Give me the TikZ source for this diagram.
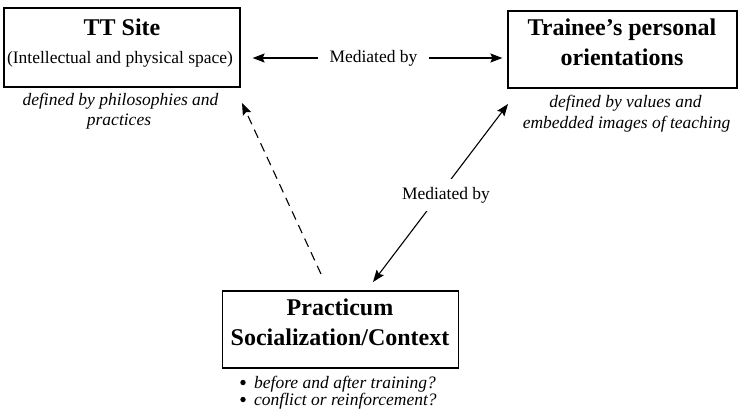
\documentclass[tikz,border=0pt]{standalone}
\usepackage{fontspec}
\setmainfont{Liberation Serif}
\usetikzlibrary{arrows.meta}
\begin{document}
\begin{tikzpicture}[x=1pt,y=-1pt,
  box/.style={draw, line width=1.2pt, rectangle, inner sep=0pt},
  ttl/.style={font=\fontsize{24}{29}\selectfont\bfseries, anchor=base, inner sep=0pt},
  txt/.style={font=\fontsize{17.5}{21}\selectfont, anchor=base, inner sep=0pt},
  itx/.style={font=\fontsize{17.5}{21}\selectfont\itshape, anchor=base, inner sep=0pt},
  bul/.style={fill=black},
  arr/.style={line width=1.1pt, -{Stealth[length=12pt,width=9pt,inset=2pt]}},
  arrb/.style={line width=1.1pt, {Stealth[length=12pt,width=9pt,inset=2pt]}-{Stealth[length=12pt,width=9pt,inset=2pt]}}
]
\useasboundingbox (0,0) rectangle (738,413);
% boxes
\node[box, minimum width=236pt, minimum height=79pt] (tt) at (122,47.5) {};
\node[box, minimum width=229pt, minimum height=77pt] (tr) at (622.5,49.5) {};
\node[box, minimum width=236pt, minimum height=77pt] (pr) at (340.5,329.5) {};
% box texts
\node[ttl] (ttA) at (122,35) {TT Site};
\node[txt] (ttB) at (120,63) {(Intellectual and physical space)};
\node[ttl] (trA) at (622,35) {Trainee’s personal};
\node[ttl] (trB) at (622,65) {orientations};
\node[ttl] (prA) at (340,315) {Practicum};
\node[ttl] (prB) at (340,345) {Socialization/Context};
% notes
\node[itx] (ttC) at (120.5,105) {defined by philosophies and};
\node[itx] (ttD) at (119,125) {practices};
\node[itx] (trC) at (625.5,107) {defined by values and};
\node[itx] (trD) at (626.5,128) {embedded images of teaching};
\node[font=\fontsize{17.5}{17}\selectfont\itshape, inner sep=0pt, align=left, anchor=base west] (prC) at (254,405)
  {before and after training?\\ conflict or reinforcement?};
\fill[bul] (243,382.5) circle (2.7pt);
\fill[bul] (243,399.5) circle (2.7pt);
% top connector
\node[txt, anchor=center, inner xsep=11pt] (mt) at (373.5,58) {Mediated by};
\draw[arr, shorten >=12pt] (mt.west) -- (tt.east |- mt.west);
\draw[arr, shorten >=5pt] (mt.east) -- (tr.west |- mt.east);
% diagonal connector
\coordinate (d1) at (508,104);
\coordinate (d2) at (373,282);
\draw[arrb] (d2) -- (d1);
\node[txt, anchor=center, fill=white, inner sep=8pt] (md) at (446,195) {Mediated by};
% dashed connector
\coordinate (s1) at (321,274);
\coordinate (s2) at (242,103);
\draw[arr, dash pattern=on 9pt off 6pt] (s1) -- (s2);
\end{tikzpicture}
\end{document}
